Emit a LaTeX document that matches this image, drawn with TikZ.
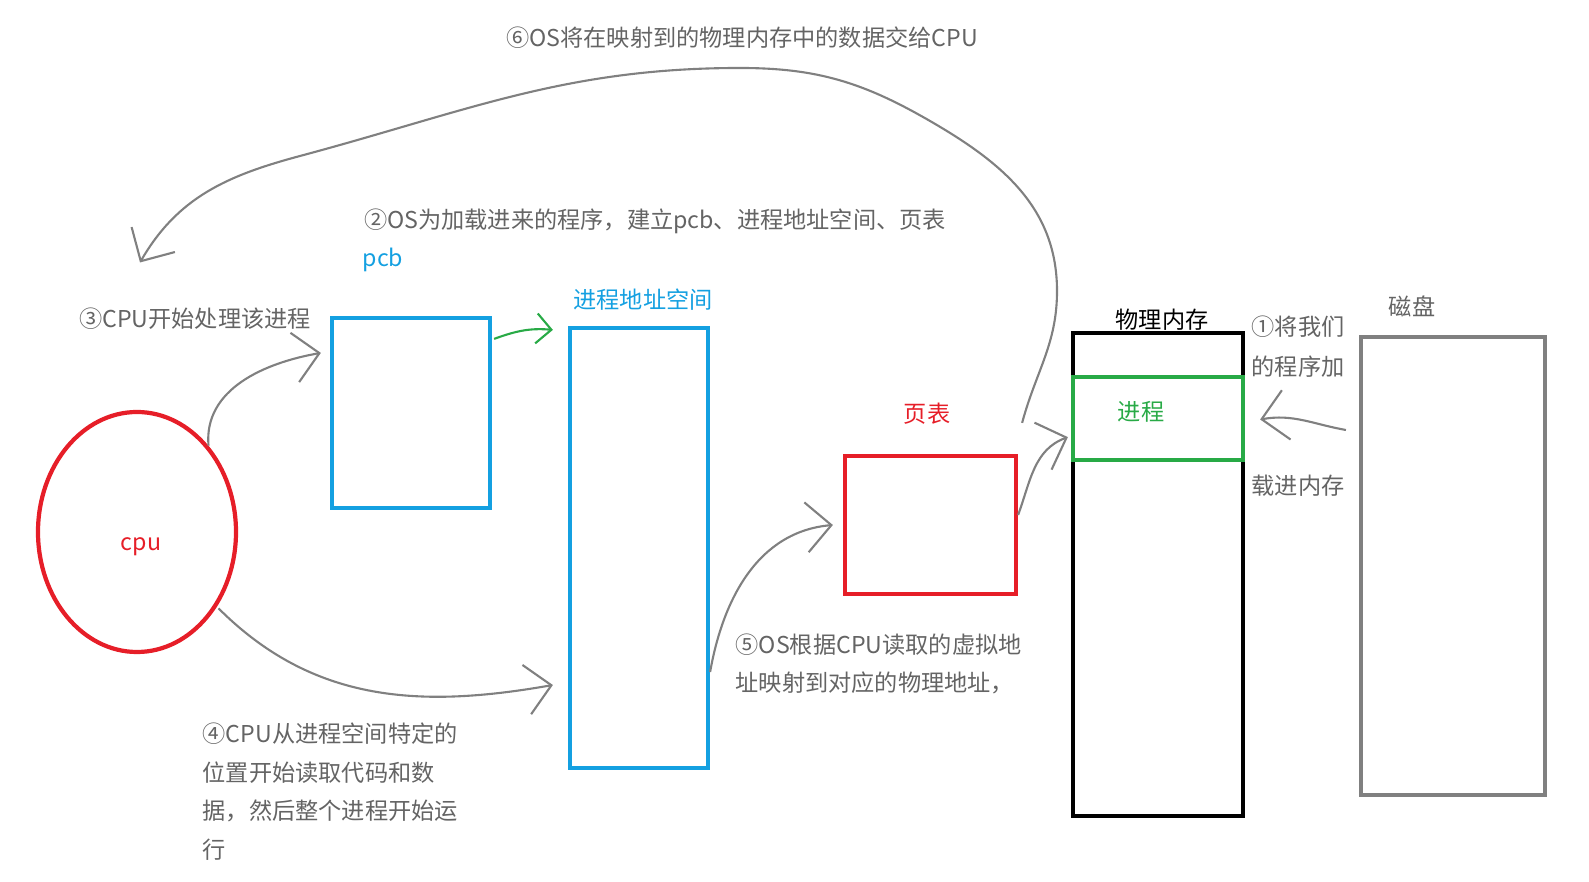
\documentclass[tikz,border=0pt]{standalone}
\usepackage{fontspec}
\setmainfont{Noto Sans CJK SC}
\usetikzlibrary{arrows.meta,positioning,shapes.geometric}
\definecolor{pblue}{RGB}{20,160,225}
\definecolor{pred}{RGB}{230,30,40}
\definecolor{pgreen}{RGB}{40,170,70}
\definecolor{pgray}{RGB}{128,128,128}
\definecolor{ptext}{RGB}{100,100,100}

\begin{document}
\begin{tikzpicture}[
    box/.style={draw=#1, line width=1.2pt, minimum width=0pt, minimum height=0pt, inner sep=0pt},
    lbl/.style={text=#1, font=\fontsize{6.6pt}{8pt}\selectfont, inner sep=0pt},
    note/.style={text=ptext, font=\fontsize{6.6pt}{11pt}\selectfont, inner sep=0pt, align=left},
    link/.style={pgray, line width=0.6pt, -{Straight Barb[length=2.5mm,width=5mm]}}
]
        \useasboundingbox (0,0) rectangle (15.89,8.81);

        % boxes
        \node[box=pred, ellipse, minimum width=1.98cm, minimum height=2.40cm] (cpu) at (1.37,3.49) {};
        \node[lbl=pred] at (1.41,3.34) {cpu};
        \node[box=pblue, minimum width=1.58cm, minimum height=1.90cm] (pcb) at (4.11,4.68) {};
        \node[lbl=pblue] at (3.83,6.21) {pcb};
        \node[box=pblue, minimum width=1.38cm, minimum height=4.40cm] (addr) at (6.39,3.33) {};
        \node[lbl=pblue] at (6.43,5.81) {进程地址空间};
        \node[box=pred, minimum width=1.71cm, minimum height=1.38cm] (pt) at (9.305,3.56) {};
        \node[lbl=pred] at (9.27,4.67) {页表};
        \node[box=black, minimum width=1.70cm, minimum height=4.83cm] (mem) at (11.58,3.065) {};
        \node[lbl=black] at (11.62,5.61) {物理内存};
        \node[box=pgreen, minimum width=1.70cm, minimum height=0.83cm] (proc) at (11.58,4.625) {};
        \node[lbl=pgreen] at (11.41,4.69) {进程};
        \node[box=pgray, minimum width=1.84cm, minimum height=4.58cm] (disk) at (14.53,3.15) {};
        \node[lbl=ptext] at (14.12,5.75) {磁盘};

        % notes
        \node[note] (l1a) at (12.98,5.54) {①将我们};
        \node[note] (l1b) at (12.98,5.14) {的程序加};
        \node[note] (l1c) at (12.98,3.95) {载进内存};
        \node[note] (l2) at (6.55,6.60) {②OS为加载进来的程序，建立pcb、进程地址空间、页表};
        \node[note] (l3) at (1.95,5.62) {③CPU开始处理该进程};
        \node[note, anchor=north west] (l4) at (2.02,1.59) {④CPU从进程空间特定的\\位置开始读取代码和数\\据，然后整个进程开始运\\行};
        \node[note, anchor=north west] (l5) at (7.35,2.48) {⑤OS根据CPU读取的虚拟地\\址映射到对应的物理地址，};
        \node[note] (l6) at (7.42,8.43) {⑥OS将在映射到的物理内存中的数据交给CPU};

        % arrows
        \draw[link] (cpu.north east) to[out=95,in=190] ([xshift=-.09cm,yshift=-.37cm]pcb.north west);
        \draw[pgreen, line width=0.6pt, -{Straight Barb[length=1.5mm,width=3mm]}] ([xshift=.02cm,yshift=-.23cm]pcb.north east) to[out=20,in=175] ([xshift=-.15cm,yshift=-.04cm]addr.north west);
        \draw[link] ([xshift=.1cm,yshift=.1cm]cpu.south east) to[out=-45,in=190] ([xshift=-.15cm,yshift=-1.37cm]addr.west);
        \draw[link] ([yshift=-1.24cm]addr.east) to[out=80,in=185] ([xshift=-.1cm]pt.west);
        \draw[link] ([yshift=.1cm]pt.east) to[out=70,in=200] ([xshift=-.03cm,yshift=.25cm]proc.south west);
        \draw[link] ([xshift=-.13cm,yshift=1.36cm]disk.west) to[out=170,in=10] ([xshift=.15cm,yshift=-.01cm]proc.east);
        \draw[link] ([xshift=.04cm,yshift=.31cm]pt.north east) to[out=75,in=-90] (10.57,5.9)
            to[out=90,in=-30] (9.3,7.6) to[out=150,in=0] (7.4,8.13)
            to[out=180,in=15] (3.0,7.25) to[out=195,in=60] ([xshift=-.55cm,yshift=.45cm]l3.north);
\end{tikzpicture}
\end{document}
